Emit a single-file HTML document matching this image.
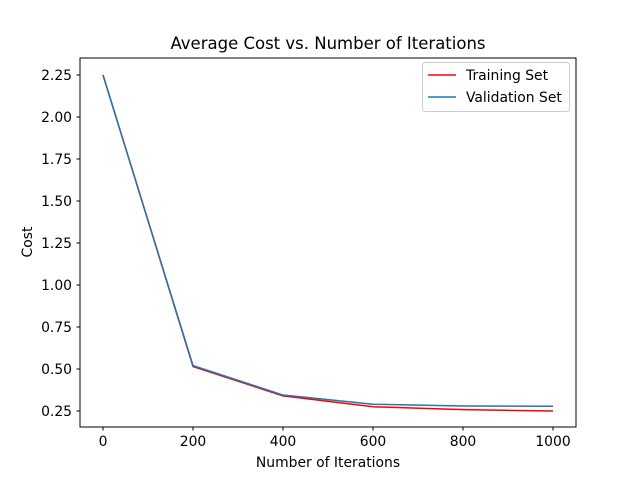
<!DOCTYPE html>
<html><head><meta charset="utf-8"><style>
body{margin:0;background:#fff;}
svg{font-family:"DejaVu Sans","Liberation Sans",sans-serif;}
</style></head><body>
<svg id="chart" width="640" height="480" xmlns="http://www.w3.org/2000/svg">
<rect width="640" height="480" fill="#fff"/>
<text x="328" y="49" font-size="16.5" text-anchor="middle">Average Cost vs. Number of Iterations</text>
<g id="plot"></g>
<rect x="80" y="58" width="496" height="369" fill="none" stroke="#000" stroke-width="1"/>
<text x="328" y="467" font-size="13.9" text-anchor="middle">Number of Iterations</text>
<text transform="translate(32,242) rotate(-90)" font-size="13.9" text-anchor="middle">Cost</text>
<g>
<rect x="422.5" y="62.5" width="147" height="49" rx="3" fill="#fff" fill-opacity="0.8" stroke="#ccc"/>
<line x1="428" y1="75" x2="456" y2="75" stroke="#ff0000" stroke-width="1.5"/>
<text x="466" y="80" font-size="13.9">Training Set</text>
<line x1="428" y1="97" x2="456" y2="97" stroke="#1f77b4" stroke-width="1.5"/>
<text x="466" y="102" font-size="13.9">Validation Set</text>
</g>
</svg>
<script>
const iterations=[0,200,400,600,800,1000];
const trainingCost=[2.25,0.515,0.34,0.275,0.258,0.25];
const validationCost=[2.25,0.52,0.345,0.29,0.28,0.278];
const xTicks=[0,200,400,600,800,1000];
const yTicks=[0.25,0.5,0.75,1.0,1.25,1.5,1.75,2.0,2.25];
const NS="http://www.w3.org/2000/svg";
function xs(v){return 103+v*0.45;}
function ys(v){return 411-(v-0.25)*168;}
const g=document.getElementById('plot');
function mk(t,a){const e=document.createElementNS(NS,t);for(const k in a)e.setAttribute(k,a[k]);g.appendChild(e);return e;}
xTicks.forEach(t=>{
 const l=mk('line',{x1:xs(t),x2:xs(t),y1:427,y2:430.5,stroke:'#000'});
 
 
 const tx=mk('text',{x:xs(t),y:446,'font-size':13.9,'text-anchor':'middle'});
 tx.textContent=t;
 
 
});
yTicks.forEach(t=>{
 const l=mk('line',{x1:76.5,x2:80,y1:ys(t),y2:ys(t),stroke:'#000'});
 
 
 const tx=mk('text',{x:72,y:ys(t)+5,'font-size':13.9,'text-anchor':'end'});
 tx.textContent=t.toFixed(2);
 
 
});
function line(vals,color,name){
 const p=mk('polyline',{points:iterations.map((x,i)=>xs(x)+','+ys(vals[i])).join(' '),fill:'none',stroke:color,'stroke-width':1.5});
 
 
}
line(trainingCost,'#ff0000','training-line');
line(validationCost,'#1f77b4','validation-line');
</script>
</body></html>
